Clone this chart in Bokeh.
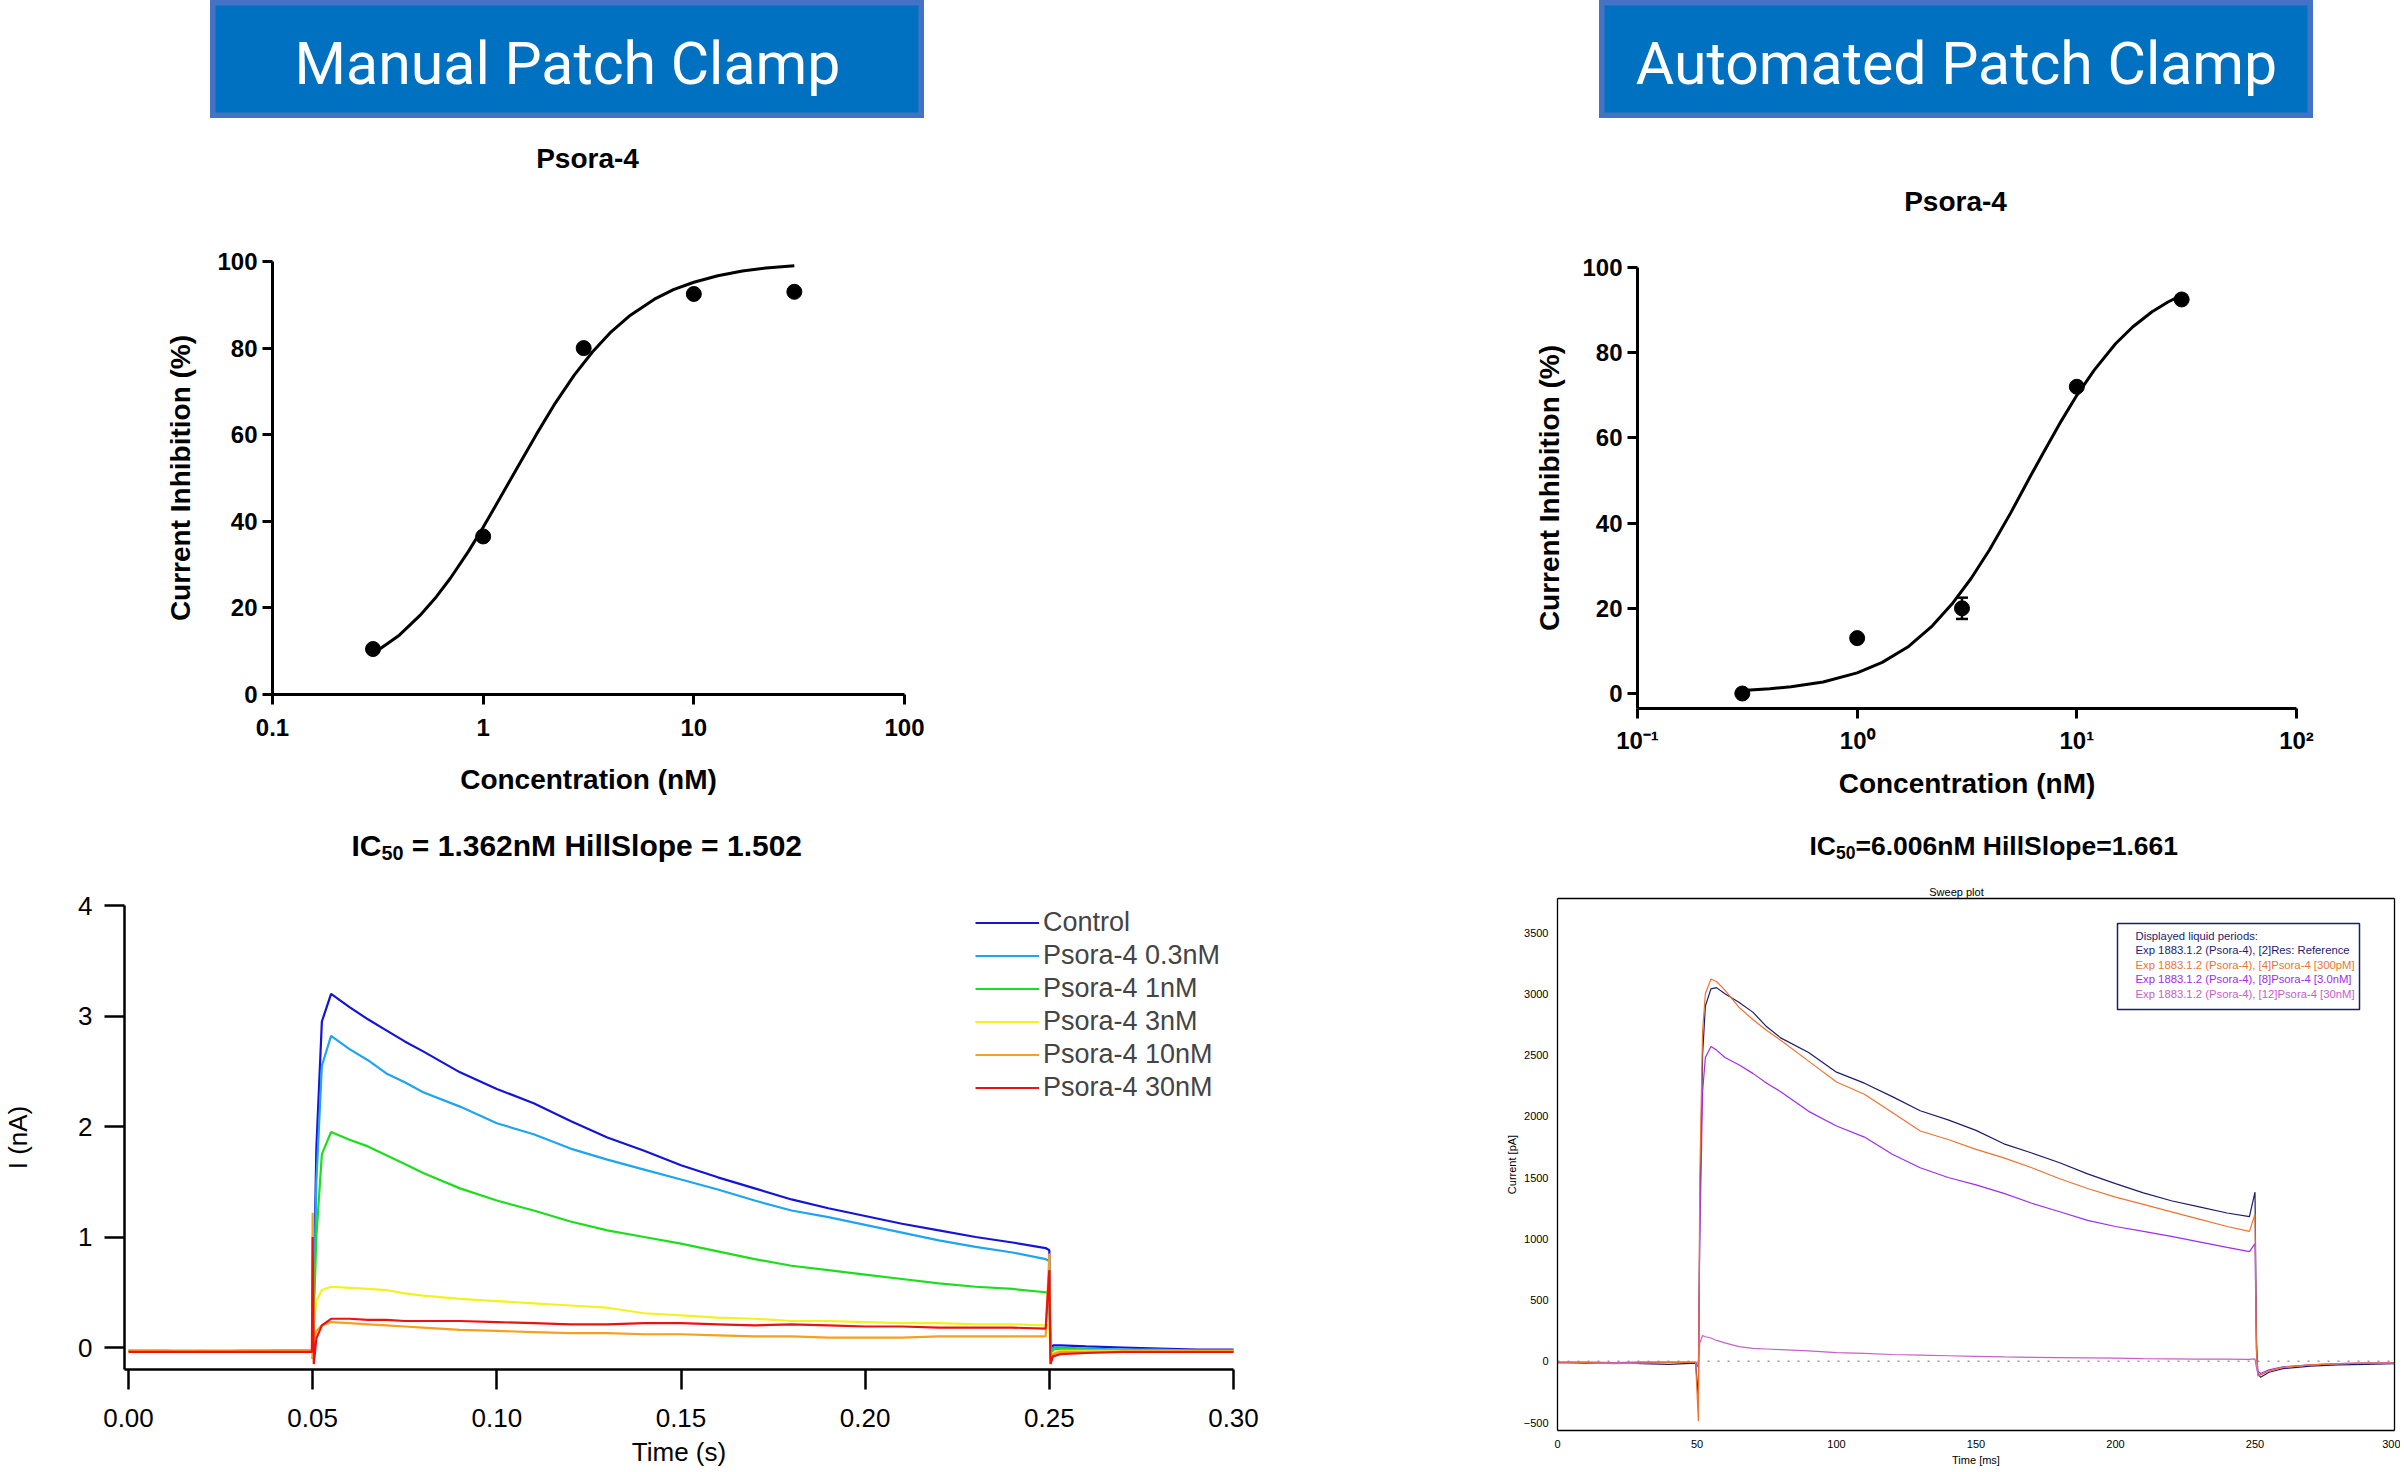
from bokeh.plotting import figure
from bokeh.layouts import column, row
from bokeh.models import (Spacer, Label, Legend, LegendItem, FixedTicker, Whisker, Range1d,
                          ColumnDataSource, BoxAnnotation, TeeHead, LinearAxis)
from bokeh.embed import file_html
from bokeh.resources import INLINE

# ---------------------------------------------------------------- data
HEADER_LEFT = "Manual Patch Clamp"
HEADER_RIGHT = "Automated Patch Clamp"
DRUG = "Psora-4"

CONC_NM = [0.3, 1, 3, 10, 30]
MANUAL_INHIB = [10.5, 36.5, 80.0, 92.5, 93.0]
AUTO_INHIB = [0.0, 13.0, 20.0, 72.0, 92.5]
AUTO_ERR = [0.0, 0.0, 2.5, 0.0, 0.0]

MANUAL_FIT_X = [0.3, 0.4, 0.5, 0.6, 0.7, 0.85, 1, 1.2, 1.5, 1.8, 2.2, 2.7, 3.3, 4, 5, 6.5, 8, 10, 13, 17, 22, 30]
MANUAL_FIT_Y = [9.4, 13.7, 18.2, 22.6, 26.9, 33.0, 38.6, 45.3, 53.6, 60.3, 67.3, 73.7, 79.1, 83.5, 87.6, 91.3,
                93.5, 95.2, 96.7, 97.8, 98.5, 99.0]
AUTO_FIT_X = [0.3, 0.4, 0.5, 0.7, 1, 1.3, 1.7, 2.2, 2.7, 3.3, 4, 5, 6, 7, 8.5, 10, 12, 15, 18, 22, 26, 30]
AUTO_FIT_Y = [0.7, 1.1, 1.6, 2.7, 4.85, 7.3, 10.9, 15.9, 21.0, 27.0, 33.7, 42.4, 50.0, 56.3, 64.0, 70.0,
              75.9, 82.1, 86.1, 89.6, 91.9, 93.5]

LOG_TICKS = [0.1, 1, 10, 100]
MANUAL_LOG_LABELS = ["0.1", "1", "10", "100"]
AUTO_LOG_LABELS = ["10\u207b\u00b9", "10\u2070", "10\u00b9", "10\u00b2"]
INHIB_TICKS = [0, 20, 40, 60, 80, 100]

# titles: "IC" + subscript "50" + rest
MANUAL_TITLE_PARTS = ["IC", "50", "= 1.362nM HillSlope = 1.502"]
AUTO_TITLE_PARTS = ["IC", "50", "=6.006nM HillSlope=1.661"]

# manual patch clamp traces (time in s, current in nA)
TIME_S = [0.000, 0.010, 0.020, 0.030, 0.040, 0.0498, 0.0500, 0.0503, 0.0510, 0.0525, 0.0550,
          0.0600, 0.0650, 0.0700, 0.0750, 0.0800,
          0.09, 0.10, 0.11, 0.12, 0.13, 0.14, 0.15, 0.16, 0.17, 0.18, 0.19, 0.20, 0.21, 0.22, 0.23, 0.24,
          0.2490, 0.2500, 0.2503, 0.2510, 0.2530,
          0.26, 0.27, 0.28, 0.29, 0.30]
TIME_TICKS = [0.0, 0.05, 0.10, 0.15, 0.20, 0.25, 0.30]
TIME_TICK_LABELS = ["0.00", "0.05", "0.10", "0.15", "0.20", "0.25", "0.30"]
CURRENT_TICKS = [0, 1, 2, 3, 4]

TRACE_NAMES = ["Control", "Psora-4 0.3nM", "Psora-4 1nM", "Psora-4 3nM", "Psora-4 10nM", "Psora-4 30nM"]
TRACE_COLORS = ["#1414d8", "#1ea4f0", "#1edc1e", "#f2f21e", "#f5a01e", "#ec1212"]
CONTROL_NA = [-0.03, -0.03, -0.04, -0.03, -0.03, -0.03, -0.10, 0.50, 1.80, 2.95, 3.20,
              3.08, 2.97, 2.87, 2.77, 2.68,
              2.49, 2.34, 2.21, 2.05, 1.90, 1.78, 1.65, 1.54, 1.44, 1.34, 1.26, 1.19, 1.12, 1.06, 1.00, 0.95,
              0.90, 0.88, -0.05, 0.02, 0.02,
              0.01, 0.00, -0.01, -0.02, -0.02]
P03_NA = [-0.03, -0.03, -0.03, -0.04, -0.03, -0.03, -0.10, 0.40, 1.50, 2.55, 2.82,
          2.70, 2.60, 2.48, 2.40, 2.31,
          2.18, 2.03, 1.93, 1.80, 1.70, 1.61, 1.52, 1.43, 1.33, 1.24, 1.18, 1.11, 1.04, 0.97, 0.91, 0.86,
          0.80, 0.78, -0.08, 0.00, 0.00,
          -0.01, -0.02, -0.02, -0.03, -0.03]
P1_NA = [-0.03, -0.04, -0.03, -0.03, -0.03, -0.03, -0.10, 0.30, 1.00, 1.75, 1.95,
         1.88, 1.82, 1.74, 1.66, 1.58,
         1.44, 1.33, 1.24, 1.14, 1.06, 1.00, 0.94, 0.87, 0.80, 0.74, 0.70, 0.66, 0.62, 0.58, 0.55, 0.53,
         0.50, 0.49, -0.10, -0.02, -0.01,
         -0.02, -0.03, -0.03, -0.03, -0.03]
P3_NA = [-0.03, -0.03, -0.03, -0.03, -0.04, -0.03, -0.10, 0.20, 0.42, 0.52, 0.55,
         0.54, 0.53, 0.52, 0.49, 0.47,
         0.44, 0.42, 0.40, 0.38, 0.36, 0.31, 0.29, 0.27, 0.26, 0.24, 0.24, 0.23, 0.22, 0.22, 0.21, 0.21,
         0.20, 0.20, -0.10, -0.05, -0.03,
         -0.03, -0.03, -0.03, -0.03, -0.03]
P10_NA = [-0.03, -0.03, -0.03, -0.03, -0.03, -0.03, 1.22, 0.05, 0.15, 0.20, 0.23,
          0.22, 0.21, 0.20, 0.19, 0.18,
          0.16, 0.15, 0.14, 0.13, 0.13, 0.12, 0.12, 0.11, 0.10, 0.10, 0.09, 0.09, 0.09, 0.10, 0.10, 0.10,
          0.10, 0.85, -0.10, -0.06, -0.04,
          -0.04, -0.04, -0.04, -0.04, -0.04]
P30_NA = [-0.04, -0.04, -0.04, -0.04, -0.04, -0.04, 1.00, -0.15, 0.08, 0.20, 0.26,
          0.26, 0.25, 0.25, 0.24, 0.24,
          0.24, 0.23, 0.22, 0.21, 0.21, 0.22, 0.22, 0.21, 0.20, 0.21, 0.20, 0.19, 0.19, 0.18, 0.18, 0.18,
          0.17, 0.70, -0.15, -0.08, -0.06,
          -0.05, -0.04, -0.04, -0.04, -0.04]
MANUAL_TRACES = [CONTROL_NA, P03_NA, P1_NA, P3_NA, P10_NA, P30_NA]

# automated patch clamp sweep plot (time in ms, current in pA)
TIME_MS = [0, 10, 20, 30, 40, 49.5, 50.5, 51, 52, 53, 55, 57,
           60, 65, 70, 75, 80,
           90, 100, 110, 120, 130, 140, 150, 160, 170, 180, 190, 200, 210, 220, 230, 240,
           248, 250, 250.5, 251, 252, 255,
           260, 270, 280, 290, 300]
MS_TICKS = [0, 50, 100, 150, 200, 250, 300]
PA_TICKS = [-500, 0, 500, 1000, 1500, 2000, 2500, 3000, 3500]
SWEEP_TITLE = "Sweep plot"
SWEEP_LEGEND_TITLE = "Displayed liquid periods:"
SWEEP_NAMES = ["Exp 1883.1.2 (Psora-4), [2]Res: Reference",
               "Exp 1883.1.2 (Psora-4), [4]Psora-4 [300pM]",
               "Exp 1883.1.2 (Psora-4), [8]Psora-4 [3.0nM]",
               "Exp 1883.1.2 (Psora-4), [12]Psora-4 [30nM]"]
SWEEP_COLORS = ["#1c1c6c", "#ef7330", "#a02cf0", "#c860c8"]
REF_PA = [-10, -15, -10, -20, -25, -15, -300, 1200, 2500, 2900, 3040, 3050,
          3000, 2930, 2850, 2730, 2640,
          2520, 2360, 2270, 2160, 2045, 1970, 1885, 1775, 1700, 1620, 1530, 1450, 1375, 1310, 1260, 1210,
          1180, 1380, 200, -100, -130, -90,
          -60, -40, -30, -25, -20]
PM300_PA = [-15, -10, -20, -15, -10, -10, -490, 1500, 2700, 3000, 3120, 3100,
            3030, 2890, 2790, 2700, 2620,
            2450, 2280, 2180, 2030, 1880, 1810, 1730, 1660, 1580, 1490, 1410, 1340, 1280, 1220, 1160, 1100,
            1060, 1200, 100, -120, -110, -80,
            -50, -30, -20, -15, -15]
NM3_PA = [-10, -10, -15, -10, -10, -10, -50, 1000, 2200, 2480, 2570, 2540,
          2480, 2420, 2350, 2270, 2200,
          2040, 1920, 1830, 1690, 1580, 1500, 1440, 1370, 1290, 1220, 1150, 1100, 1060, 1020, 975, 930,
          895, 960, 100, -80, -100, -70,
          -45, -30, -20, -15, -15]
NM30_PA = [-5, -5, -10, -5, -5, -5, -20, 150, 210, 200, 190, 170,
           150, 120, 105, 100, 95,
           85, 70, 65, 55, 50, 45, 40, 35, 32, 30, 28, 25, 22, 20, 18, 17,
           15, 20, -50, -100, -110, -80,
           -50, -30, -20, -15, -10]
SWEEP_TRACES = [REF_PA, PM300_PA, NM3_PA, NM30_PA]
SWEEP_DRAW_ORDER = [0, 2, 3, 1]

# ---------------------------------------------------------------- layout geometry (page pixels)
FONT = "Liberation Sans"
HEAD_FONT = "Roboto"
HEAD_H = 118
BAND2_TOP, BAND2_BOT = 118, 815
BAND3_TOP, BAND3_BOT = 815, 1470


def pix_map(v0, p0, v1, p1):
    k = (v1 - v0) / (p1 - p0)
    return lambda p: v0 + (p - p0) * k


def canvas(w, h, **kw):
    p = figure(width=w, height=h, min_border=0, toolbar_location=None, output_backend="svg",
               outline_line_color=None, **kw)
    p.xgrid.visible = False
    p.ygrid.visible = False
    return p


def header(text, w, h):
    p = figure(width=w, height=h, x_range=(0, 1), y_range=(0, 1), x_axis_type=None, y_axis_type=None,
               min_border=0, toolbar_location=None, output_backend="svg",
               background_fill_color="#0070C0", border_fill_color="#0070C0",
               outline_line_color="#4472C4", outline_line_width=10)
    p.add_layout(Label(x=0.5, y=0.47, text=text, text_align="center", text_baseline="middle",
                       text_color="white", text_font_size="59px", text_font=HEAD_FONT))
    return p


def text_label(text, x, y, size, bold=True, color="black", align="center"):
    return Label(x=x, y=y, x_units="screen", y_units="screen", text=text, text_align=align,
                 text_baseline="middle", text_font=FONT, text_font_size=size,
                 text_font_style="bold" if bold else "normal", text_color=color)


def sub_title(p, parts, x_left, y_mid, size):
    """Bold title with a subscript part; widths from Arial/Liberation Sans Bold metrics."""
    main, sub, rest = parts
    sub_size = size * 0.66
    w_main = sum({"I": 0.278, "C": 0.722}.get(ch, 0.6) for ch in main) * size
    w_sub = 0.556 * len(sub) * sub_size
    space = 0.278 * size if rest.startswith("=") and " = " in rest else 0.0
    p.add_layout(text_label(main, x_left, y_mid, f"{size}px", align="left"))
    p.add_layout(text_label(sub, x_left + w_main, y_mid - size * 0.25, f"{sub_size:.1f}px", align="left"))
    p.add_layout(text_label(rest, x_left + w_main + w_sub + space, y_mid, f"{size}px", align="left"))


def style_dose(p, ylab_standoff, xlab_standoff, xlab_std):
    for ax in p.axis:
        ax.axis_line_width = 3
        ax.major_tick_line_width = 3
        ax.major_tick_out = 10
        ax.major_tick_in = 0
        ax.minor_tick_line_color = None
        ax.major_label_text_font = FONT
        ax.major_label_text_font_style = "bold"
        ax.major_label_text_font_size = "24px"
        ax.major_label_text_color = "black"
        ax.axis_label_text_font = FONT
        ax.axis_label_text_font_style = "bold"
        ax.axis_label_text_font_size = "28px"
        ax.axis_label_text_color = "black"
    p.yaxis.major_label_standoff = 5
    p.xaxis.major_label_standoff = xlab_std
    p.yaxis.axis_label_standoff = ylab_standoff
    p.xaxis.axis_label_standoff = xlab_standoff
    p.yaxis.ticker = FixedTicker(ticks=INHIB_TICKS)
    p.xaxis.ticker = FixedTicker(ticks=LOG_TICKS)
    p.xaxis.axis_label = "Concentration (nM)"
    p.yaxis.axis_label = "Current Inhibition (%)"


# ---------------------------------------------------------------- top left: manual dose-response
TL_X0, TL_X1 = 0, 1200
tlx = pix_map(-1, 272, 2, 904)          # log10(conc) vs page x
tly = pix_map(0, 694, 100, 261)         # inhibition vs page y
tl = canvas(TL_X1 - TL_X0, BAND2_BOT - BAND2_TOP, x_axis_type="log",
            x_range=Range1d(10 ** tlx(TL_X0), 10 ** tlx(TL_X1)),
            y_range=Range1d(tly(BAND2_BOT), tly(BAND2_TOP)))
tl.line(MANUAL_FIT_X, MANUAL_FIT_Y, line_color="black", line_width=3)
tl.scatter(CONC_NM, MANUAL_INHIB, size=15, color="black")
style_dose(tl, 18, 25, 14)
tl.xaxis.fixed_location = 0
tl.xaxis.bounds = (LOG_TICKS[0], LOG_TICKS[-1])
tl.yaxis.fixed_location = LOG_TICKS[0]
tl.yaxis.bounds = (INHIB_TICKS[0], INHIB_TICKS[-1])
tl.xaxis.major_label_overrides = dict(zip(LOG_TICKS, MANUAL_LOG_LABELS))
tl.add_layout(text_label(DRUG, 587 - TL_X0, BAND2_BOT - 158, "28px"))

# ---------------------------------------------------------------- top right: automated dose-response
TR_X0, TR_X1 = 1200, 2400
trx = pix_map(-1, 1637, 2, 2296)
try_ = pix_map(0, 693, 100, 267)
tr = canvas(TR_X1 - TR_X0, BAND2_BOT - BAND2_TOP, x_axis_type="log",
            x_range=Range1d(10 ** trx(TR_X0), 10 ** trx(TR_X1)),
            y_range=Range1d(try_(BAND2_BOT), try_(BAND2_TOP)))
tr.line(AUTO_FIT_X, AUTO_FIT_Y, line_color="black", line_width=3)
err_src = ColumnDataSource(dict(
    base=[c for c, e in zip(CONC_NM, AUTO_ERR) if e > 0],
    lower=[v - e for v, e in zip(AUTO_INHIB, AUTO_ERR) if e > 0],
    upper=[v + e for v, e in zip(AUTO_INHIB, AUTO_ERR) if e > 0]))
tr.add_layout(Whisker(source=err_src, base="base", lower="lower", upper="upper",
                      line_color="black", line_width=2.5,
                      upper_head=TeeHead(size=12, line_width=2.5, line_color="black"),
                      lower_head=TeeHead(size=12, line_width=2.5, line_color="black")))
tr.scatter(CONC_NM, AUTO_INHIB, size=15, color="black")
style_dose(tr, 14, 11, 8)
tr_xaxis_y = try_(708)
tr.xaxis.fixed_location = tr_xaxis_y
tr.xaxis.bounds = (LOG_TICKS[0], LOG_TICKS[-1])
tr.yaxis.fixed_location = LOG_TICKS[0]
tr.yaxis.bounds = (tr_xaxis_y, INHIB_TICKS[-1])
tr.xaxis.major_label_overrides = dict(zip(LOG_TICKS, AUTO_LOG_LABELS))
tr.add_layout(text_label(DRUG, 1955 - TR_X0, BAND2_BOT - 201, "28px"))

# ---------------------------------------------------------------- bottom left: manual traces
BL_X0, BL_X1 = 0, 1500
blx = pix_map(0.0, 128, 0.30, 1233)
bly = pix_map(0, 1347, 4, 905)
bl = canvas(BL_X1 - BL_X0, BAND3_BOT - BAND3_TOP,
            x_range=Range1d(blx(BL_X0), blx(BL_X1)), y_range=Range1d(bly(BAND3_BOT), bly(BAND3_TOP)))
items = []
for name, color, vals in zip(TRACE_NAMES, TRACE_COLORS, MANUAL_TRACES):
    r = bl.line(TIME_S, vals, line_color=color, line_width=2.2)
    items.append(LegendItem(label=name, renderers=[r]))
leg = Legend(items=items, location=(975 - BL_X0, BAND3_BOT - 1104), border_line_color=None,
             background_fill_alpha=0, padding=0, margin=0, spacing=0, label_height=33, glyph_height=33,
             glyph_width=64, label_standoff=4, label_text_font=FONT, label_text_font_size="27px")
bl.add_layout(leg)
for ax in bl.axis:
    ax.axis_line_width = 2.5
    ax.major_tick_line_width = 2.5
    ax.major_tick_in = 0
    ax.major_tick_out = 20
    ax.minor_tick_line_color = None
    ax.major_label_text_font = FONT
    ax.major_label_text_font_size = "26px"
    ax.major_label_text_color = "black"
    ax.axis_label_text_font = FONT
    ax.axis_label_text_font_style = "normal"
    ax.axis_label_text_font_size = "26px"
    ax.axis_label_text_color = "black"
bl_xaxis_y = bly(1369)
bl_yaxis_x = blx(124)
bl.xaxis.fixed_location = bl_xaxis_y
bl.xaxis.bounds = (bl_yaxis_x, TIME_TICKS[-1])
bl.yaxis.fixed_location = bl_yaxis_x
bl.yaxis.bounds = (bl_xaxis_y, CURRENT_TICKS[-1])
bl.xaxis.ticker = FixedTicker(ticks=TIME_TICKS)
bl.xaxis.major_label_overrides = dict(zip(TIME_TICKS, TIME_TICK_LABELS))
bl.yaxis.ticker = FixedTicker(ticks=CURRENT_TICKS)
bl.xaxis.major_label_standoff = 19
bl.yaxis.major_label_standoff = 12
bl.xaxis.axis_label_standoff = 7
bl.yaxis.axis_label_standoff = 42
bl.xaxis.axis_label = "Time (s)"
bl.yaxis.axis_label = "I (nA)"
sub_title(bl, MANUAL_TITLE_PARTS, 351 - BL_X0, BAND3_BOT - 845, 30)

# ---------------------------------------------------------------- bottom right: sweep plot
BR_X0, BR_X1 = 1500, 2400
brx = pix_map(0, 1557, 300, 2394)
bry = pix_map(-500, 1422, 3500, 932)
br = canvas(BR_X1 - BR_X0, BAND3_BOT - BAND3_TOP,
            x_range=Range1d(brx(BR_X0), brx(BR_X1)), y_range=Range1d(bry(BAND3_BOT), bry(BAND3_TOP)))
box_bottom, box_top = bry(1430), bry(898)
br.line([TIME_MS[0], TIME_MS[-1]], [0, 0], line_color="#9a9a9a", line_width=1.6, line_dash="2 8")
for i in SWEEP_DRAW_ORDER:
    br.line(TIME_MS, SWEEP_TRACES[i], line_color=SWEEP_COLORS[i], line_width=1.2)
br.add_layout(LinearAxis(), "above")
br.add_layout(LinearAxis(), "right")
for ax in br.axis:
    ax.axis_line_color = "black"
    ax.axis_line_width = 1.3
    ax.major_tick_line_color = None
    ax.minor_tick_line_color = None
    ax.major_label_text_font = FONT
    ax.major_label_text_font_size = "11px"
    ax.major_label_text_color = "black"
    ax.axis_label_text_font = FONT
    ax.axis_label_text_font_style = "normal"
    ax.axis_label_text_font_size = "11px"
    ax.axis_label_text_color = "black"
    ax.major_label_standoff = 3
    ax.axis_label_standoff = 3
br.below[0].fixed_location = box_bottom
br.below[0].bounds = (MS_TICKS[0], MS_TICKS[-1])
br.below[0].ticker = FixedTicker(ticks=MS_TICKS)
br.below[0].axis_label = "Time [ms]"
br.left[0].fixed_location = MS_TICKS[0]
br.left[0].bounds = (box_bottom, box_top)
br.left[0].ticker = FixedTicker(ticks=PA_TICKS)
br.left[0].axis_label = "Current [pA]"
br.above[0].fixed_location = box_top
br.above[0].bounds = (MS_TICKS[0], MS_TICKS[-1])
br.above[0].ticker = FixedTicker(ticks=[])
br.right[0].fixed_location = MS_TICKS[-1]
br.right[0].bounds = (box_bottom, box_top)
br.right[0].ticker = FixedTicker(ticks=[])
br.add_layout(text_label(SWEEP_TITLE, 1956 - BR_X0, BAND3_BOT - 891, "11px", bold=False))
sub_title(br, AUTO_TITLE_PARTS, 1809 - BR_X0, BAND3_BOT - 845, 26.5)
br.add_layout(BoxAnnotation(left=2117 - BR_X0, right=2359 - BR_X0,
                            top=BAND3_BOT - 923, bottom=BAND3_BOT - 1009,
                            left_units="screen", right_units="screen",
                            top_units="screen", bottom_units="screen",
                            fill_color="white", fill_alpha=1.0,
                            line_color=SWEEP_COLORS[0], line_width=1.5, line_alpha=1.0))
br.add_layout(text_label(SWEEP_LEGEND_TITLE, 2135 - BR_X0, BAND3_BOT - 935, "11.3px", bold=False,
                         color=SWEEP_COLORS[0], align="left"))
for i, (name, color) in enumerate(zip(SWEEP_NAMES, SWEEP_COLORS)):
    br.add_layout(text_label(name, 2135 - BR_X0, BAND3_BOT - 949.5 - 14.5 * i, "11.3px", bold=False,
                             color=color, align="left"))

# ---------------------------------------------------------------- layout
band1 = row(Spacer(width=210, height=HEAD_H), header(HEADER_LEFT, 714, HEAD_H),
            Spacer(width=675, height=HEAD_H), header(HEADER_RIGHT, 714, HEAD_H))
band2 = row(tl, tr)
band3 = row(bl, br)
layout = column(band1, band2, band3)

open("out.html", "w").write(file_html(layout, INLINE, title="Psora-4 patch clamp"))
